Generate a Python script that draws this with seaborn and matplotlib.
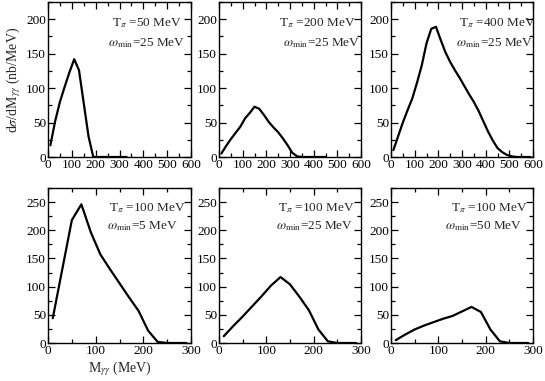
import numpy as np
import pandas as pd
import matplotlib
matplotlib.use("Agg")
import matplotlib.pyplot as plt
from matplotlib.ticker import MultipleLocator
import seaborn as sns

# ---- data ----
m_top1 = [10, 30, 50, 70, 90, 110, 130, 150, 170, 190, 210, 230, 250, 270, 290, 310, 330]
s_top1 = [17, 52, 80, 102, 123, 142, 126, 78, 30, 0, 0, 0, 0, 0, 0, 0, 0]

m_top2 = [10, 30, 50, 70, 90, 110, 130, 150, 170, 190, 210, 230, 250, 270, 290, 310, 330, 350,
          370, 390, 410, 430, 450]
s_top2 = [5, 16, 26, 35, 44, 56, 64, 73, 70, 61, 51, 43, 36, 27, 17, 6, 1, 0,
          0, 0, 0, 0, 0]

m_top3 = [10, 30, 50, 70, 90, 110, 130, 150, 170, 190, 210, 230, 250, 270, 290, 310, 330, 350,
          370, 390, 410, 430, 450, 470, 490, 510, 530, 550, 570, 590]
s_top3 = [10, 30, 50, 68, 85, 108, 133, 165, 186, 189, 170, 152, 138, 126, 115, 103, 91, 80,
          67, 52, 37, 24, 13, 7, 3, 1, 0, 0, 0, 0]

m_bot = [10, 30, 50, 70, 90, 110, 130, 150, 170, 190, 210, 230, 250, 270, 290]
s_bot1 = [44, 131, 218, 246, 196, 157, 131, 106, 81, 57, 22, 2, 0, 0, 0]
s_bot2 = [12, 30, 47, 65, 83, 102, 117, 104, 82, 58, 24, 3, 0, 0, 0]
s_bot3 = [5, 15, 24, 31, 37, 43, 48, 56, 64, 55, 24, 3, 0, 0, 0]

t_labels = [r"T$_{\pi}$ =50 MeV", r"T$_{\pi}$ =200 MeV", r"T$_{\pi}$ =400 MeV",
            r"T$_{\pi}$ =100 MeV", r"T$_{\pi}$ =100 MeV", r"T$_{\pi}$ =100 MeV"]
w_labels = [r"$\omega_{\rm min}$=25 MeV", r"$\omega_{\rm min}$=25 MeV", r"$\omega_{\rm min}$=25 MeV",
            r"$\omega_{\rm min}$=5 MeV", r"$\omega_{\rm min}$=25 MeV", r"$\omega_{\rm min}$=50 MeV"]

series = [(m_top1, s_top1), (m_top2, s_top2), (m_top3, s_top3),
          (m_bot, s_bot1), (m_bot, s_bot2), (m_bot, s_bot3)]

# ---- style ----
sns.set_style("ticks")
plt.rcParams["font.family"] = ["Liberation Serif", "DejaVu Serif"]
plt.rcParams["mathtext.fontset"] = "stix"
plt.rcParams["xtick.direction"] = "in"
plt.rcParams["ytick.direction"] = "in"

fig = plt.figure(figsize=(5.45, 3.81), dpi=100)
W, H = 545.0, 381.0
cols = [(48, 191), (219, 361), (391, 533)]
rows = [(2, 157), (188, 343)]

# text positions (axes fraction, left aligned)
t_pos = [(0.45, 0.865), (0.42, 0.865), (0.48, 0.865), (0.43, 0.87), (0.415, 0.87), (0.42, 0.87)]
w_pos = [(0.42, 0.735), (0.45, 0.735), (0.46, 0.735), (0.41, 0.755), (0.40, 0.755), (0.38, 0.755)]

axes = []
for i in range(6):
    r, c = divmod(i, 3)
    x0, x1 = cols[c]
    y0, y1 = rows[r]
    ax = fig.add_axes([x0 / W, 1 - y1 / H, (x1 - x0) / W, (y1 - y0) / H])
    axes.append(ax)
    m, s = series[i]
    df = pd.DataFrame({"M": m, "S": s})
    sns.lineplot(data=df, x="M", y="S", ax=ax, color="black", lw=1.6)
    if r == 0:
        ax.set_xlim(0, 600)
        ax.set_ylim(0, 225)
        ax.set_yticks([0, 50, 100, 150, 200])
    else:
        ax.set_xlim(0, 300)
        ax.set_ylim(0, 275)
        ax.set_yticks([0, 50, 100, 150, 200, 250])
    ax.xaxis.set_major_locator(MultipleLocator(100))
    ax.xaxis.set_minor_locator(MultipleLocator(50))
    ax.yaxis.set_minor_locator(MultipleLocator(25))
    ax.tick_params(which="both", direction="in", top=True, right=True,
                   labelsize=9.5, pad=1.5, width=0.9, color="black", labelcolor="black")
    ax.tick_params(which="major", length=5)
    ax.tick_params(which="minor", length=3)
    for sp in ax.spines.values():
        sp.set_visible(True)
        sp.set_linewidth(1.0)
        sp.set_color("black")
    ax.set_xlabel("")
    ax.set_ylabel("")
    ax.text(t_pos[i][0], t_pos[i][1], t_labels[i], transform=ax.transAxes,
            fontsize=9.5, ha="left", va="center")
    ax.text(w_pos[i][0], w_pos[i][1], w_labels[i], transform=ax.transAxes,
            fontsize=9.5, ha="left", va="center")

axes[0].set_ylabel(r"d$\sigma$/dM$_{\gamma\gamma}$ (nb/MeV)", fontsize=10, labelpad=2)
axes[3].set_xlabel(r"M$_{\gamma\gamma}$ (MeV)", fontsize=10, labelpad=2)

fig.savefig("out.png", dpi=100)
